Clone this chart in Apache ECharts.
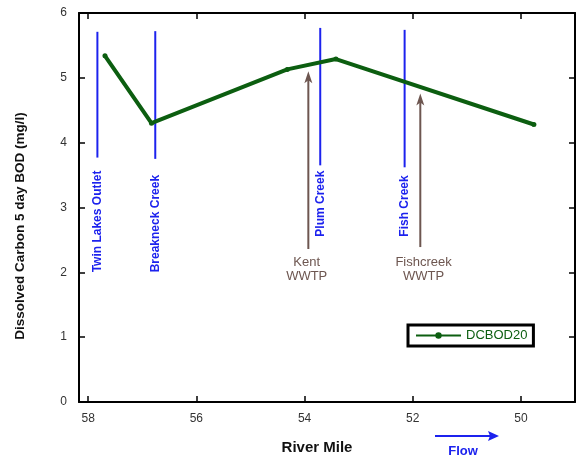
<!DOCTYPE html>
<html>
<head>
<meta charset="utf-8">
<script src="https://cdn.jsdelivr.net/npm/echarts@6/dist/echarts.min.js"></script>
<style>html,body{margin:0;padding:0;background:#fff}#c{width:576px;height:457px}</style>
</head>
<body>
<div id="c"></div>
<script>
// ---- data ----
const miles = [57.69, 56.83, 54.32, 53.42, 49.76];
const dcbod20 = [5.34, 4.30, 5.13, 5.29, 4.28];
const xTicks = [58, 56, 54, 52, 50];
const yTicks = [0, 1, 2, 3, 4, 5, 6];
const tribNames = ['Twin Lakes Outlet', 'Breakneck Creek', 'Plum Creek', 'Fish Creek'];
const tribMiles = [57.83, 56.76, 53.71, 52.15];
const tribTop = [5.71, 5.72, 5.77, 5.74];
const tribBottom = [3.77, 3.75, 3.65, 3.62];
const tribLabelBase = [2.0, 2.0, 2.55, 2.55];
const wwtpNames = ['Kent\nWWTP', 'Fishcreek\nWWTP'];
const wwtpMiles = [53.93, 51.86];
const wwtpLabelMiles = [53.96, 51.80];
const wwtpTop = [5.10, 4.76];
const wwtpBottom = [2.36, 2.39];
const wwtpLabelY = [2.05, 2.05];

const GREEN = '#0c5e10', BLUE = '#1c22ee', BROWN = '#6d5650';
const FONT = 'Liberation Sans, Arial, sans-serif';

const chart = echarts.init(document.getElementById('c'));

const tribData = tribNames.map((n, i) => [tribMiles[i], tribTop[i], tribBottom[i], tribLabelBase[i], i]);
const wwtpData = wwtpNames.map((n, i) => [wwtpMiles[i], wwtpTop[i], wwtpBottom[i], wwtpLabelMiles[i], wwtpLabelY[i], i]);

const axisCommonX = {
  type: 'value', min: 49, max: 58.17, inverse: true,
  splitLine: { show: false },
  axisLine: { show: true, onZero: false, lineStyle: { color: '#000', width: 2 } },
  axisTick: { show: true, inside: true, length: 6, customValues: xTicks, lineStyle: { color: '#000', width: 1.5 } }
};
const axisCommonY = {
  type: 'value', min: 0, max: 6, interval: 1,
  splitLine: { show: false },
  axisLine: { show: true, onZero: false, lineStyle: { color: '#000', width: 2 } },
  axisTick: { show: true, inside: true, length: 6, lineStyle: { color: '#000', width: 1.5 } }
};

chart.setOption({
  animation: false,
  backgroundColor: '#fff',
  grid: { left: 79, right: 1, top: 13, bottom: 55 },
  xAxis: [
    Object.assign({}, axisCommonX, {
      position: 'bottom',
      axisLabel: { show: true, customValues: xTicks, color: '#333', fontSize: 12, fontFamily: FONT, margin: 11 }
    }),
    Object.assign({}, axisCommonX, { position: 'top', axisLabel: { show: false } })
  ],
  yAxis: [
    Object.assign({}, axisCommonY, {
      position: 'left',
      axisLabel: { show: true, color: '#333', fontSize: 12, fontFamily: FONT, margin: 12 }
    }),
    Object.assign({}, axisCommonY, { position: 'right', axisLabel: { show: false } })
  ],
  legend: {
    data: ['DCBOD20'],
    left: 408, top: 325,
    padding: [4, 6, 4, 7],
    borderColor: '#000', borderWidth: 3, borderRadius: 0,
    itemWidth: 45, itemHeight: 8, itemGap: 4,
    textStyle: { color: GREEN, fontSize: 13, fontFamily: FONT }
  },
  series: [
    {
      name: 'tributaries', type: 'custom', xAxisIndex: 0, yAxisIndex: 0, silent: true,
      data: tribData,
      renderItem: function (params, api) {
        const x = api.value(0);
        const p1 = api.coord([x, api.value(1)]);
        const p2 = api.coord([x, api.value(2)]);
        const pl = api.coord([x, api.value(3)]);
        const idx = api.value(4);
        return {
          type: 'group',
          children: [
            { type: 'line', shape: { x1: p1[0], y1: p1[1], x2: p2[0], y2: p2[1] }, style: { stroke: BLUE, lineWidth: 2 } },
            { type: 'text', x: pl[0], y: pl[1], rotation: Math.PI / 2,
              style: { text: tribNames[idx], fill: BLUE, font: 'bold 12px ' + FONT, textAlign: 'left', textVerticalAlign: 'middle' } }
          ]
        };
      }
    },
    {
      name: 'wwtp', type: 'custom', xAxisIndex: 0, yAxisIndex: 0, silent: true,
      data: wwtpData,
      renderItem: function (params, api) {
        const x = api.value(0);
        const pt = api.coord([x, api.value(1)]);
        const pb = api.coord([x, api.value(2)]);
        const pl = api.coord([api.value(3), api.value(4)]);
        const idx = api.value(5);
        const tx = pt[0], ty = pt[1];
        return {
          type: 'group',
          children: [
            { type: 'line', shape: { x1: pb[0], y1: pb[1], x2: tx, y2: ty + 6 }, style: { stroke: BROWN, lineWidth: 2 } },
            { type: 'polygon', shape: { points: [[tx, ty], [tx + 4, ty + 12], [tx, ty + 9], [tx - 4, ty + 12]] }, style: { fill: BROWN } },
            { type: 'text', x: pl[0], y: pl[1],
              style: { text: wwtpNames[idx], fill: BROWN, font: '13px ' + FONT, textAlign: 'center', textVerticalAlign: 'middle', lineHeight: 14 } }
          ]
        };
      }
    },
    {
      name: 'DCBOD20', type: 'line', xAxisIndex: 0, yAxisIndex: 0,
      data: miles.map((m, i) => [m, dcbod20[i]]),
      color: GREEN,
      lineStyle: { color: GREEN, width: 4 },
      itemStyle: { color: GREEN },
      symbol: 'circle', symbolSize: 5, showSymbol: true,
      z: 5
    }
  ],
  graphic: [
    { type: 'text', x: 20, y: 226, rotation: Math.PI / 2,
      style: { text: 'Dissolved Carbon 5 day BOD (mg/l)', fill: '#111', font: 'bold 13.5px ' + FONT, textAlign: 'center', textVerticalAlign: 'middle' } },
    { type: 'text', x: 317, y: 448,
      style: { text: 'River Mile', fill: '#111', font: 'bold 15px ' + FONT, textAlign: 'center', textVerticalAlign: 'middle' } },
    { type: 'text', x: 463, y: 451,
      style: { text: 'Flow', fill: BLUE, font: 'bold 13px ' + FONT, textAlign: 'center', textVerticalAlign: 'middle' } },
    { type: 'line', shape: { x1: 435, y1: 436, x2: 492, y2: 436 }, style: { stroke: BLUE, lineWidth: 2 } },
    { type: 'polygon', shape: { points: [[499, 436], [488, 431], [490, 436], [488, 441]] }, style: { fill: BLUE } }
  ]
});
</script>
</body>
</html>
